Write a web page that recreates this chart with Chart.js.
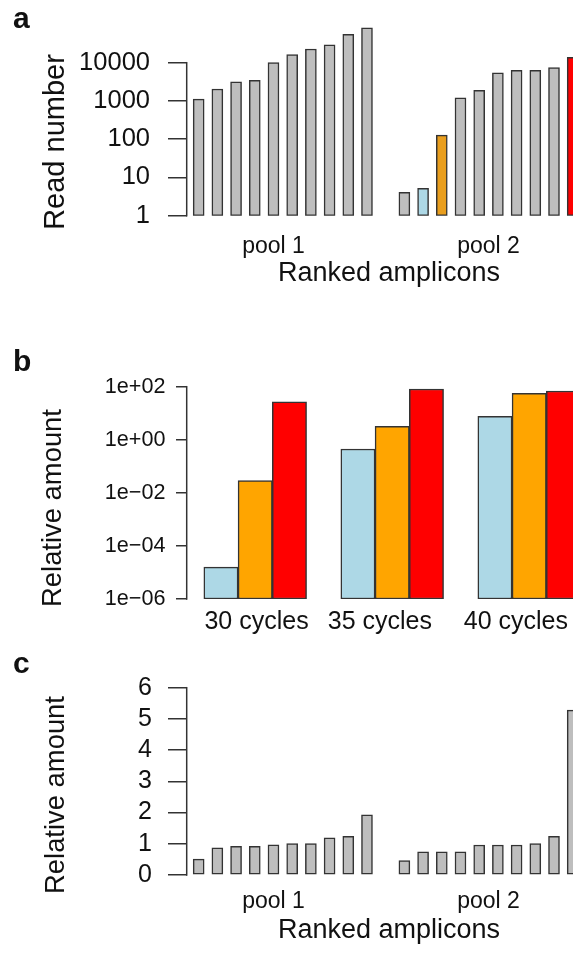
<!DOCTYPE html>
<html><head><meta charset="utf-8">
<script src="https://cdn.jsdelivr.net/npm/chart.js@4.4.1/dist/chart.umd.min.js"></script>
<style>
html,body{margin:0;padding:0;background:#fff;}
#wrap{position:relative;width:573px;height:965px;overflow:hidden;background:#fff;font-family:"Liberation Sans",Arial,sans-serif;color:#111;}
#wrap canvas{position:absolute;left:0;}
.lbl{position:absolute;white-space:nowrap;line-height:1;}
.pl{font-weight:bold;font-size:30px;}
.yt{transform:translate(-50%,-50%) rotate(-90deg);}
</style></head><body>
<div id="wrap">
<canvas id="ca" width="600" height="310" style="top:-20px;width:600px;height:310px"></canvas>
<canvas id="cb" width="640" height="310" style="top:330px;width:640px;height:310px"></canvas>
<canvas id="cc" width="600" height="307" style="top:640px;width:600px;height:307px"></canvas>
<div class="lbl pl" style="left:13px;top:2.6px">a</div>
<div class="lbl pl" style="left:13px;top:346.3px">b</div>
<div class="lbl pl" style="left:13px;top:647.9px">c</div>
<div class="lbl yt" style="left:54px;top:141.5px;font-size:29px">Read number</div>
<div class="lbl yt" style="left:52px;top:507.5px;font-size:27.4px">Relative amount</div>
<div class="lbl yt" style="left:55px;top:795px;font-size:27.4px">Relative amount</div>
</div>
<script>
// ---------- data ----------
const poolLabels = ['pool 1', 'pool 2'];
const poolTickPos = [4, 15.5];

// panel a: read numbers (ranked amplicons)
const readsPool1 = [1120, 2050, 3170, 3470, 10000, 16300, 22800, 29500, 55000, 82000];
const readsPool2 = [4.1, 5.2, 128, 1210, 1900, 5400, 6300, 6300, 7400, 13800];
const readTicks = [1, 10, 100, 1000, 10000];
const readTickLabels = ['1', '10', '100', '1000', '10000'];

// panel b: relative amount by PCR cycles
const cycleLabels = ['30 cycles', '35 cycles', '40 cycles'];
const cycleTickPos = [1.04, 4.64, 8.61];
const amountLightblue = [1.6e-5, 0.45, 7.7];
const amountOrange = [0.029, 3.2, 56];
const amountRed = [27, 82, 69];
const amountTicks = [1e-6, 1e-4, 1e-2, 1, 100];
const amountTickLabels = ['1e\u221206', '1e\u221204', '1e\u221202', '1e+00', '1e+02'];

// panel c: relative amount (ranked amplicons)
const relPool1 = [0.51, 0.87, 0.92, 0.92, 0.97, 1.01, 1.01, 1.19, 1.24, 1.93];
const relPool2 = [0.46, 0.74, 0.74, 0.74, 0.96, 0.96, 0.96, 1.01, 1.24, 5.28];
const relTicks = [0, 1, 2, 3, 4, 5, 6];
const relTickLabels = ['0', '1', '2', '3', '4', '5', '6'];

// ---------- styles ----------
const FONT = '"Liberation Sans", Arial, sans-serif';
const TXT = '#111';
const EDGE = '#333';
const GRAY = '#bebebe', LBLUE = '#add8e6', ORANGE = '#ffa500', ORANGE_A = '#e99e1e', RED = '#ff0000';

const rAxisLine = {
  id: 'rAxisLine',
  afterDraw(chart) {
    const s = chart.scales.y, t = s.ticks;
    const y1 = s.getPixelForValue(t[0].value), y2 = s.getPixelForValue(t[t.length - 1].value);
    const x = chart.chartArea.left;
    const ctx = chart.ctx;
    ctx.save();
    ctx.strokeStyle = EDGE; ctx.lineWidth = 1.5;
    ctx.beginPath(); ctx.moveTo(x, y1 + 0.75); ctx.lineTo(x, y2 - 0.75); ctx.stroke();
    ctx.restore();
  }
};

function xAxis(min, max, pos, labels, height, pad, size, title) {
  const ax = {
    type: 'linear', min: min, max: max, offset: false,
    grid: { display: false, drawTicks: false, tickLength: 0, offset: false },
    border: { display: false },
    afterBuildTicks: s => { s.ticks = pos.map(v => ({ value: v })); },
    afterFit: s => { s.height = height; },
    ticks: { autoSkip: false, maxRotation: 0, minRotation: 0, padding: pad, color: TXT,
             font: { family: FONT, size: size }, callback: (v, i) => labels[i] }
  };
  if (title) ax.title = { display: true, text: title, color: TXT, font: { family: FONT, size: 27 }, padding: { top: 0, bottom: 0.5 } };
  return ax;
}
function yAxis(type, min, max, ticks, labels, tickLen, pad, size) {
  return {
    type: type, min: min, max: max,
    grid: { display: true, drawOnChartArea: false, drawTicks: true, tickLength: tickLen, color: EDGE, lineWidth: 1.5 },
    border: { display: false },
    afterBuildTicks: s => { s.ticks = ticks.map(v => ({ value: v })); },
    afterFit: s => { s.width = 186.7; },
    ticks: { autoSkip: false, padding: pad, color: TXT, font: { family: FONT, size: size }, callback: (v, i) => labels[i] }
  };
}
const common = { responsive: false, animation: false, events: [],
  plugins: { legend: { display: false }, tooltip: { enabled: false } } };

function poolData(p1, p2) {
  return p1.map((v, i) => ({ x: i, y: v })).concat(p2.map((v, i) => ({ x: p1.length + 1 + i, y: v })));
}

// panel a
const colorsA = readsPool1.map(() => GRAY).concat([GRAY, LBLUE, ORANGE_A, GRAY, GRAY, GRAY, GRAY, GRAY, GRAY, RED]);
new Chart(document.getElementById('ca'), {
  type: 'bar',
  data: { datasets: [{ data: poolData(readsPool1, readsPool2), backgroundColor: colorsA,
    borderColor: EDGE, borderWidth: 1.5, borderSkipped: false, barThickness: 11, grouped: false }] },
  options: Object.assign({}, common, {
    layout: { padding: { left: 0, right: 8.6, top: 44.45, bottom: 0 } },
    scales: {
      x: xAxis(-0.64, 21, poolTickPos, poolLabels, 74.3, 16.7, 23, 'Ranked amplicons'),
      y: yAxis('logarithmic', 1, 1e5, readTicks, readTickLabels, 18.7, 18, 25.5)
    }
  }),
  plugins: [rAxisLine]
});

// panel b
function cyc(vals, k) { return vals.map((v, g) => ({ x: g * 4 + k, y: v })); }
const barB = { borderColor: EDGE, borderWidth: 1.5, borderSkipped: false, barThickness: 34.25, grouped: false };
new Chart(document.getElementById('cb'), {
  type: 'bar',
  data: { datasets: [
    Object.assign({ data: cyc(amountLightblue, 0), backgroundColor: LBLUE }, barB),
    Object.assign({ data: cyc(amountOrange, 1), backgroundColor: ORANGE }, barB),
    Object.assign({ data: cyc(amountRed, 2), backgroundColor: RED }, barB)
  ] },
  options: Object.assign({}, common, {
    layout: { padding: { left: 0, right: 8.05, top: 56.7, bottom: 0 } },
    scales: {
      x: xAxis(-1, 12, cycleTickPos, cycleLabels, 41, 7.75, 25, null),
      y: yAxis('logarithmic', 1e-6, 100, amountTicks, amountTickLabels, 10.7, 10.5, 21.6)
    }
  }),
  plugins: [rAxisLine]
});

// panel c
new Chart(document.getElementById('cc'), {
  type: 'bar',
  data: { datasets: [{ data: poolData(relPool1, relPool2), backgroundColor: GRAY,
    borderColor: EDGE, borderWidth: 1.5, borderSkipped: false, barThickness: 11, grouped: false }] },
  options: Object.assign({}, common, {
    layout: { padding: { left: 0, right: 8.6, top: 47.7, bottom: 0 } },
    scales: {
      x: xAxis(-0.64, 21, poolTickPos, poolLabels, 72, 12.4, 23, 'Ranked amplicons'),
      y: yAxis('linear', 0, 6, relTicks, relTickLabels, 18.7, 16, 25)
    }
  }),
  plugins: [rAxisLine]
});
</script>
</body></html>
